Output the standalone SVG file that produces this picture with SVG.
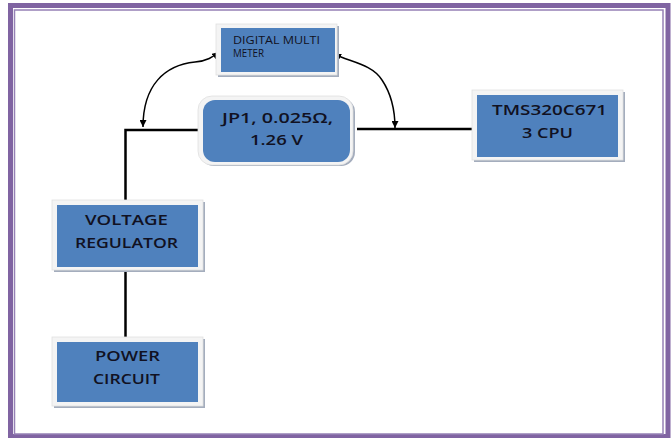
<svg xmlns="http://www.w3.org/2000/svg" width="671" height="438" viewBox="0 0 671 438">
<defs>
<marker id="ah" viewBox="0 0 10 10" refX="10" refY="5" markerWidth="7" markerHeight="7" markerUnits="userSpaceOnUse" orient="auto-start-reverse">
<path d="M0,0 L10,5 L0,10 z" fill="#000"/>
</marker>
</defs>
<style>
.shadow{fill:#a4adbd}
.frame{fill:#f4f4f4;stroke:#e0e0e0;stroke-width:0.8}
.box{fill:#4f81bd}
.t{font-family:"Open Sans","Liberation Sans",sans-serif;fill:#111122;font-weight:600}
.big{font-size:14px}
.small{font-size:10.5px;font-weight:500}
.wire{fill:none;stroke:#000;stroke-width:2.5}
.arc{fill:none;stroke:#000;stroke-width:1.5;marker-start:url(#ah);marker-end:url(#ah)}
</style>
<rect width="671" height="438" fill="#fff"/>
<rect x="10.5" y="5.5" width="657.5" height="431" fill="none" stroke="#8064a2" stroke-width="5"/>
<rect x="14.5" y="10" width="648.5" height="424" fill="none" stroke="#9580b5" stroke-width="1.5"/>

<g id="connectors">
<polyline class="wire" points="125.5,201 125.5,130 202,130"/>
<line x1="202" y1="127" x2="202" y2="132" stroke="#000" stroke-width="1.5"/>
<line class="wire" x1="357" y1="129" x2="472" y2="129" stroke-width="2"/>
<line class="wire" x1="125.5" y1="272" x2="125.5" y2="338"/>
<path class="arc" d="M143,127 C143,85 165,65 195,62 C207,61 213,57 219,52"/>
<path class="arc" d="M334,54 C350,62 372,64 382,80 C392,95 395,110 395,128"/>
</g>

<g id="dmm">
<rect class="shadow" x="218" y="26" width="121" height="51"/>
<rect class="frame" x="216" y="24" width="121" height="51"/>
<rect class="box" x="221" y="28" width="114" height="44"/>
<text class="t small" x="233" y="44" textLength="87" lengthAdjust="spacingAndGlyphs">DIGITAL MULTI</text>
<text class="t small" x="233" y="57" textLength="31" lengthAdjust="spacingAndGlyphs">METER</text>
</g>

<g id="jp1">
<rect class="shadow" x="200" y="98" width="155" height="68" rx="14"/>
<rect class="frame" x="198" y="96" width="155" height="69" rx="14"/>
<rect class="box" x="203" y="100" width="147" height="62" rx="12"/>
<text class="t big" x="222" y="123" textLength="111" lengthAdjust="spacingAndGlyphs" font-size="15">JP1, 0.025Ω,</text>
<text class="t big" x="250" y="145" textLength="53" lengthAdjust="spacingAndGlyphs" font-size="15">1.26 V</text>
</g>

<g id="tms">
<rect class="shadow" x="474" y="92" width="151" height="70"/>
<rect class="frame" x="472" y="90" width="151" height="70"/>
<rect class="box" x="477" y="95" width="141" height="62"/>
<text class="t big" x="492" y="115" textLength="115" lengthAdjust="spacingAndGlyphs">TMS320C671</text>
<text class="t big" x="522" y="138" textLength="51" lengthAdjust="spacingAndGlyphs">3 CPU</text>
</g>

<g id="vr">
<rect class="shadow" x="54" y="202" width="151" height="70"/>
<rect class="frame" x="52" y="200" width="151" height="70"/>
<rect class="box" x="57" y="205" width="141" height="62"/>
<text class="t big" x="85" y="225" textLength="83" lengthAdjust="spacingAndGlyphs">VOLTAGE</text>
<text class="t big" x="75" y="248" textLength="103" lengthAdjust="spacingAndGlyphs">REGULATOR</text>
</g>

<g id="pc">
<rect class="shadow" x="54" y="339" width="151" height="69"/>
<rect class="frame" x="52" y="337" width="151" height="69"/>
<rect class="box" x="57" y="342" width="141" height="60"/>
<text class="t big" x="95" y="361" textLength="65" lengthAdjust="spacingAndGlyphs">POWER</text>
<text class="t big" x="93" y="384" textLength="67" lengthAdjust="spacingAndGlyphs">CIRCUIT</text>
</g>
</svg>
